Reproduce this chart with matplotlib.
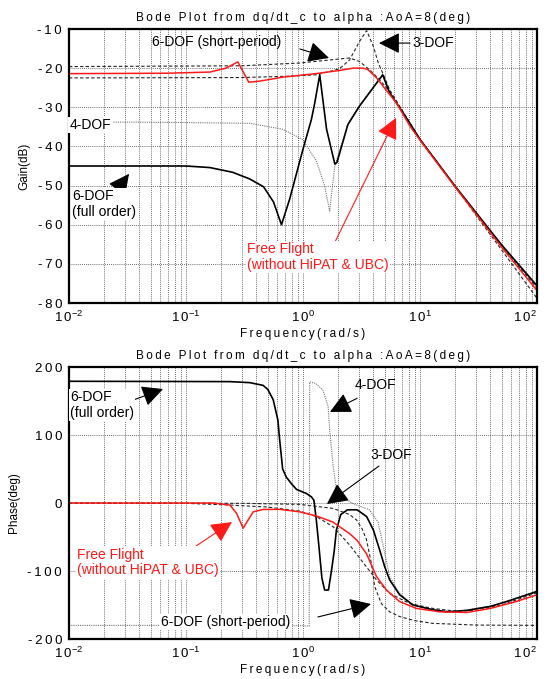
import numpy as np
import matplotlib
matplotlib.use('Agg')
import matplotlib.pyplot as plt

plt.rcParams['font.family'] = ['Liberation Sans', 'DejaVu Sans']
plt.rcParams['mathtext.fontset'] = 'custom'
plt.rcParams['mathtext.rm'] = 'Liberation Sans'

# ---- gain data (dB) ----
full6_f = [0.01, 0.1, 0.16, 0.25, 0.35, 0.46, 0.56, 0.62, 0.655, 0.77, 1.0, 1.18, 1.26, 1.39,
           1.59, 1.87, 1.95, 2.42, 3.04, 3.98, 4.8, 5.5, 7.8, 10, 20, 50, 100]
full6_g = [-45, -45, -45.4, -46.6, -48.3, -50.3, -54.2, -58, -60, -53.4, -40.7, -33.1, -28.9, -21.7,
           -35.6, -44.5, -44.1, -34.4, -29.7, -25, -21.7, -26.3, -33.1, -38.2, -50.2, -65.2, -75.6]

dof4_f = [0.01, 0.1, 0.35, 0.67, 0.99, 1.3, 1.53, 1.69, 1.87, 2.42, 3.04, 3.98, 4.8, 5.5, 7.8,
          10, 20, 50, 100]
dof4_g = [-33.7, -33.9, -34.1, -35.6, -38.2, -43.7, -50, -56.5, -45, -34.2, -29.5, -24.8, -21.8,
          -26.2, -33, -38.2, -50.2, -65.3, -75.8]

red_f = [0.01, 0.068, 0.16, 0.22, 0.277, 0.344, 0.43, 0.67, 1.29, 2.04, 2.69, 3.26, 3.6, 4.26,
         5.1, 6.3, 8.2, 10, 20, 50, 100]
red_g = [-21.4, -21.3, -21.0, -20.0, -18.4, -23.6, -23.3, -22.3, -21.4, -20.6, -20.0, -20.0, -20.4,
         -22.5, -25.5, -28.9, -34.8, -38.4, -50.4, -65.8, -76.8]

dof3_f = [0.01, 0.3, 0.7, 1.3, 2.04, 2.5, 3.04, 3.5, 4.0, 4.4, 4.87, 5.5, 7.8, 10, 20, 30, 50, 100]
dof3_g = [-22.5, -22.4, -22.1, -21.7, -20.2, -17.9, -13.2, -10.4, -14.5, -18.7, -21.7, -25.5, -33,
          -38.3, -50.3, -57.5, -66.5, -78.8]

sp_f = [0.01, 0.3, 0.93, 1.58, 2.5, 3.04, 3.7, 4.5, 5.5, 7.8, 10, 20, 50, 100]
sp_g = [-19.6, -19.4, -18.7, -18.0, -17.4, -18.3, -20.4, -22.9, -26, -33, -38.2, -50.2, -65.5, -76.2]

# ---- phase data (deg) ----
full6_pf = [0.01, 0.237, 0.35, 0.456, 0.50, 0.556, 0.61, 0.63, 0.67, 0.72, 0.8, 0.88, 1.07, 1.18,
            1.24, 1.3, 1.37, 1.45, 1.53, 1.65, 1.75, 1.85, 1.93, 2.1, 2.4, 2.9, 3.5, 4.0, 4.5, 5.0,
            5.5, 6.7, 8.7, 12.9, 17, 25, 40, 55, 100]
full6_p = [179, 178.5, 177, 173, 167, 152, 122, 95, 50, 38, 28, 20, 14, 9,
           4, -25, -65, -110, -128, -128, -100, -70, -40, -17, -10, -10, -20, -40, -68, -94,
           -113, -135, -150, -157, -160, -158, -152, -145, -130]

dof4_pf = [0.01, 0.5, 1.0, 1.13, 1.14, 1.28, 1.48, 1.64, 1.69, 1.8, 1.93, 2.2, 2.6, 3.7, 4.38,
           5.0, 5.5, 6.7, 8.7, 12.9, 20, 40, 100]
dof4_p = [-180, -180, -180.5, -181, 178, 176, 166, 142, 107, 58, 19, 9.3, 0, -10, -28,
          -74, -108, -133, -150, -157, -160, -152, -130]

red_pf = [0.01, 0.17, 0.237, 0.27, 0.308, 0.375, 0.456, 0.63, 0.94, 1.3, 1.8, 2.5, 2.9, 3.5, 4.24,
          5.17, 6.7, 9.3, 14.7, 25, 40, 66, 100]
red_p = [0, 0, -3, -15, -37, -13, -9.5, -9.3, -13, -19, -28, -45, -55, -75, -108,
         -128, -145, -155, -160, -161, -155, -145, -135]

dof3_pf = [0.01, 0.3, 0.94, 1.81, 2.5, 2.87, 3.2, 3.49, 3.84, 4.1, 4.68, 5.5, 6.7, 9, 12.9, 30, 100]
dof3_p = [0, -0.5, -2, -8, -17, -25, -38, -54, -89, -123, -148, -160, -167, -173, -177, -179.5, -180]

sp_pf = [0.01, 0.1, 0.237, 0.5, 0.94, 1.3, 1.81, 2.51, 3.49, 4.24, 5.5, 8.2, 12.9, 20, 30, 50, 100]
sp_p = [0, -0.5, -3, -6, -12, -20, -35, -62, -94, -113, -133, -148, -155, -159, -158, -150, -132]

TITLE = 'Bode Plot from dq/dt_c to alpha :AoA=8(deg)'
XLABEL = 'Frequency(rad/s)'
gain_ticks = [-80, -70, -60, -50, -40, -30, -20, -10]
phase_ticks = [-200, -100, 0, 100, 200]
x_ticks = [0.01, 0.1, 1, 10, 100]
x_exps = ['-2', '-1', '0', '1', '2']

RED = '#ff1a1a'


def spaced(s):
    return '\u2009'.join(s)


def style_axis(ax, yticks):
    ax.set_xscale('log')
    ax.set_xlim(0.01, 100)
    ax.set_xticks(x_ticks)
    ax.set_xticklabels([r'$\mathregular{1\,0^{%s}}$' % e for e in x_exps], fontsize=9.5)
    # last decade label would run past the figure edge
    ax.get_xticklabels()[-1].set_horizontalalignment('right')
    ax.set_yticks(yticks)
    ax.set_yticklabels([spaced(str(v)) for v in yticks], fontsize=9.5)
    ax.set_ylim(yticks[0], yticks[-1])
    ax.grid(True, which='major', axis='both', color='0.25', linestyle=(0, (1, 1.5)), linewidth=0.6)
    ax.grid(True, which='minor', axis='x', color='0.25', linestyle=(0, (1, 1.5)), linewidth=0.6)
    ax.tick_params(which='both', length=0, pad=5)
    for sp in ax.spines.values():
        sp.set_linewidth(1.6)
    ax.set_xlabel(spaced(XLABEL), fontsize=8.5, labelpad=2)
    ax.set_title(spaced(TITLE), fontsize=8.5, pad=6)


fig = plt.figure(figsize=(5.47, 6.79), dpi=100)
ax1 = fig.add_axes([69 / 547, 1 - 303 / 679, 468 / 547, 274 / 679])
ax2 = fig.add_axes([69 / 547, 1 - 639 / 679, 468 / 547, 272 / 679])

dash = (0, (3, 2))
head = '-|>,head_length=1.0,head_width=0.5'
arrow_k = dict(arrowstyle=head, color='black', lw=0.8, shrinkA=0, shrinkB=0, mutation_scale=13)
arrow_r = dict(arrowstyle=head, color=RED, lw=0.8, shrinkA=0, shrinkB=0, mutation_scale=13)
wbox = dict(facecolor='white', edgecolor='none', pad=1)

# ---- gain plot ----
ax1.plot(dof4_f, dof4_g, color='0.45', linestyle=(0, (1, 1)), lw=0.8)
ax1.plot(sp_f, sp_g, color='0.15', linestyle=dash, lw=0.8)
ax1.plot(dof3_f, dof3_g, color='0.15', linestyle=dash, lw=0.8)
ax1.plot(full6_f, full6_g, color='black', lw=1.2)
ax1.plot(red_f, red_g, color=RED, lw=1.1)
style_axis(ax1, gain_ticks)
ax1.set_ylabel('Gain(dB)', fontsize=8.5, labelpad=5)

ax1.text(0.0512, -13.3, '6-DOF (short-period)', fontsize=10, va='center', ha='left')
ax1.annotate('', xy=(1.667, -17.4), xytext=(0.942, -15.1), arrowprops=arrow_k)
ax1.text(8.55, -13.6, '3-DOF', fontsize=10, va='center', ha='left')
ax1.annotate('', xy=(4.46, -13.6), xytext=(8.22, -13.6), arrowprops=arrow_k)
ax1.text(0.0101, -34.5, '4-DOF', fontsize=10, va='center', ha='left', bbox=wbox, zorder=5)
ax1.text(0.0106, -54.7, '6-DOF\n(full order)', fontsize=10, va='center', ha='left',
         linespacing=1.15, bbox=wbox, zorder=5)
ax1.annotate('', xy=(0.0326, -47.0), xytext=(0.0268, -50.4), arrowprops=arrow_k)
ax1.text(0.332, -68.3, 'Free Flight\n(without HiPAT & UBC)', fontsize=10, color=RED,
         va='center', ha='left', linespacing=1.15, bbox=wbox, zorder=5)
ax1.annotate('', xy=(6.24, -32.7), xytext=(1.734, -66.5), arrowprops=arrow_r)

# ---- phase plot ----
ax2.plot(dof4_pf, dof4_p, color='0.45', linestyle=(0, (1, 1)), lw=0.8)
ax2.plot(sp_pf, sp_p, color='0.15', linestyle=dash, lw=0.8)
ax2.plot(dof3_pf, dof3_p, color='0.15', linestyle=dash, lw=0.8)
ax2.plot(full6_pf, full6_p, color='black', lw=1.2)
ax2.plot(red_pf, red_p, color=RED, lw=1.1)
style_axis(ax2, phase_ticks)
ax2.set_ylabel('Phase(deg)', fontsize=8.5, labelpad=5)

ax2.text(0.0102, 144, '6-DOF\n(full order)', fontsize=10, va='center', ha='left',
         linespacing=1.15, bbox=wbox, zorder=5)
ax2.annotate('', xy=(0.0636, 167.6), xytext=(0.0319, 148.5), arrowprops=arrow_k)
ax2.text(2.78, 173.5, '4-DOF', fontsize=10, va='center', ha='left')
ax2.annotate('', xy=(1.70, 134), xytext=(2.9, 154), arrowprops=arrow_k)
ax2.text(3.74, 70.6, '3-DOF', fontsize=10, va='center', ha='left')
ax2.annotate('', xy=(1.60, -1.5), xytext=(4.46, 54.4), arrowprops=arrow_k)
ax2.text(0.0117, -87.5, 'Free Flight\n(without HiPAT & UBC)', fontsize=10, color=RED,
         va='center', ha='left', linespacing=1.15, bbox=wbox, zorder=5)
ax2.annotate('', xy=(0.247, -28), xytext=(0.070, -91), arrowprops=arrow_r)
ax2.text(0.061, -175, '6-DOF (short-period)', fontsize=10, va='center', ha='left',
         bbox=wbox, zorder=5)
ax2.annotate('', xy=(3.81, -148.5), xytext=(1.34, -167.6), arrowprops=arrow_k)

fig.savefig('out.png', dpi=100)
